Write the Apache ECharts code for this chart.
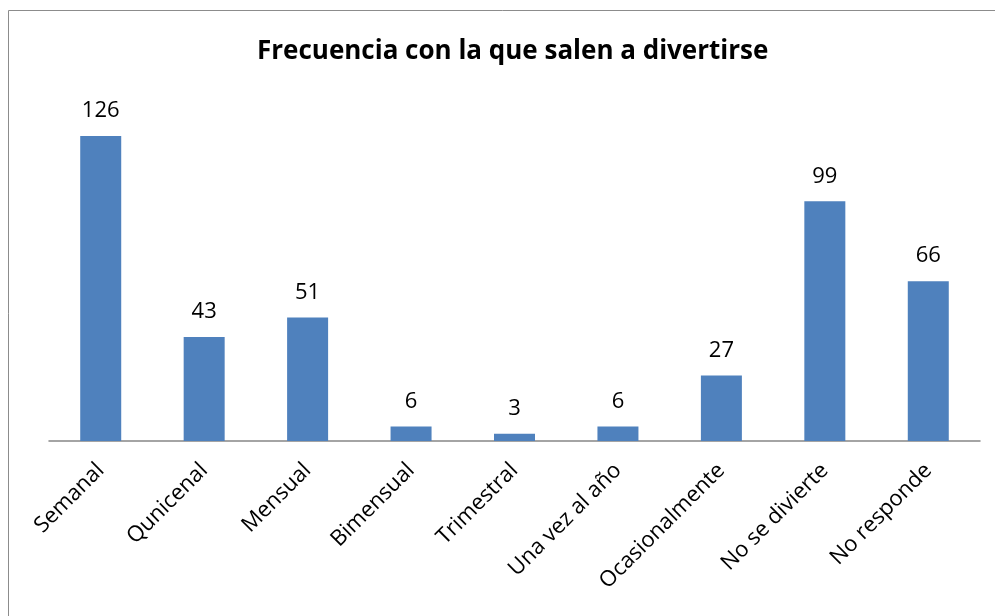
<!DOCTYPE html>
<html>
<head>
<meta charset="utf-8">
<script src="https://cdn.jsdelivr.net/npm/echarts@6/dist/echarts.min.js"></script>
<style>
  html, body { margin: 0; padding: 0; background: #fff; }
  #chart { width: 995px; height: 616px; }
</style>
</head>
<body>
<div id="chart"></div>
<script>
// categorias y valores
const categories = ['Semanal', 'Qunicenal', 'Mensual', 'Bimensual', 'Trimestral', 'Una vez al año', 'Ocasionalmente', 'No se divierte', 'No responde'];
const values = [126, 43, 51, 6, 3, 6, 27, 99, 66];
const chartTitle = 'Frecuencia con la que salen a divertirse';

const font = '"Open Sans", "Noto Sans", sans-serif';
const chart = echarts.init(document.getElementById('chart'));

chart.setOption({
  animation: false,
  backgroundColor: '#fff',
  title: {
    text: chartTitle,
    left: 252,
    top: 34,
    textStyle: { fontFamily: font, fontSize: 26, fontWeight: 'bold', color: '#000' }
  },
  graphic: [{
    type: 'rect',
    shape: { x: 8.5, y: 10.5, width: 1000, height: 700 },
    style: { fill: 'none', stroke: '#8c8c8c', lineWidth: 1 },
    silent: true
  }],
  grid: { left: 49, right: 15, top: 102, bottom: 175, containLabel: false },
  xAxis: {
    type: 'category',
    data: categories,
    axisLine: { lineStyle: { color: '#868686', width: 1.5 } },
    axisTick: { show: false },
    axisLabel: {
      interval: 0,
      rotate: 45,
      margin: 26,
      fontFamily: font,
      fontSize: 22,
      color: '#000'
    }
  },
  yAxis: {
    type: 'value',
    min: 0,
    max: 140,
    show: false
  },
  series: [{
    type: 'bar',
    data: values,
    barWidth: 41,
    itemStyle: { color: '#4F81BD' },
    label: {
      show: true,
      position: 'top',
      distance: 14,
      fontFamily: font,
      fontSize: 22,
      color: '#000'
    }
  }]
});
</script>
</body>
</html>
